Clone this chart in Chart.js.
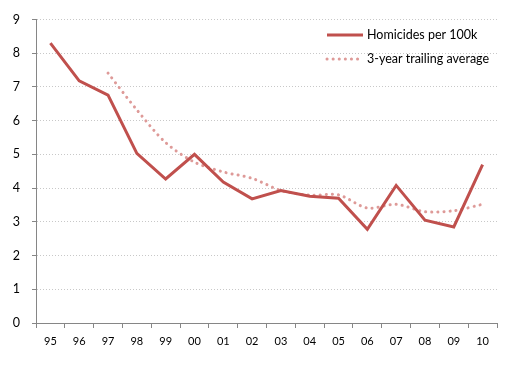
<!DOCTYPE html>
<html>
<head>
<meta charset="utf-8">
<script src="https://cdn.jsdelivr.net/npm/chart.js@4.4.0/dist/chart.umd.min.js"></script>
<style>
  html, body { margin: 0; padding: 0; background: #fff; }
  #wrap { width: 513px; height: 372px; }
</style>
</head>
<body>
<div id="wrap"><canvas id="chart" width="513" height="372"></canvas></div>
<script>
// data
const years = ["95", "96", "97", "98", "99", "00", "01", "02", "03", "04", "05", "06", "07", "08", "09", "10"];
const homicides = [8.3, 7.18, 6.76, 5.03, 4.27, 5.0, 4.18, 3.68, 3.93, 3.76, 3.7, 2.78, 4.08, 3.05, 2.85, 4.7];
const trailingAvg = [null, null, 7.41, 6.32, 5.35, 4.77, 4.48, 4.29, 3.93, 3.79, 3.8, 3.41, 3.52, 3.3, 3.33, 3.52];
const yTicks = [0, 1, 2, 3, 4, 5, 6, 7, 8, 9];

const axisGray = "#868686";
const fontFamily = "Lato, 'Open Sans', sans-serif";

// legend drawn in the upper right corner of the plot, like the original
const insideLegend = {
    id: "insideLegend",
    afterDraw: function(chart) {
        const ctx = chart.ctx;
        const x0 = 327, x1 = 363, tx = 367;
        const rows = [35, 59];
        ctx.save();
        chart.data.datasets.forEach((ds, i) => {
            const y = rows[i];
            ctx.beginPath();
            ctx.strokeStyle = ds.borderColor;
            ctx.lineWidth = ds.borderWidth;
            ctx.lineCap = ds.borderDash ? "round" : "butt";
            ctx.setLineDash(ds.borderDash || []);
            ctx.moveTo(x0, y);
            ctx.lineTo(x1, y);
            ctx.stroke();
            ctx.setLineDash([]);
            ctx.fillStyle = "#000";
            ctx.font = "12.5px " + fontFamily;
            ctx.textBaseline = "middle";
            ctx.fillText(ds.label, tx, y);
        });
        ctx.restore();
    }
};

new Chart(document.getElementById("chart"), {
    type: "line",
    data: {
        labels: years,
        datasets: [{
            label: "Homicides per 100k",
            data: homicides,
            borderColor: "#C0504D",
            borderWidth: 3,
            pointRadius: 0,
            tension: 0,
            borderJoinStyle: "miter"
        }, {
            label: "3-year trailing average",
            data: trailingAvg,
            borderColor: "#DE9A98",
            borderWidth: 3,
            borderDash: [0.1, 6],
            borderCapStyle: "round",
            pointRadius: 0,
            tension: 0.3
        }]
    },
    plugins: [insideLegend],
    options: {
        responsive: false,
        animation: false,
        layout: { padding: { top: 17, right: 16, left: 0, bottom: 0 } },
        plugins: {
            legend: { display: false },
            tooltip: { enabled: false }
        },
        scales: {
            x: {
                offset: true,
                grid: {
                    offset: true,
                    drawOnChartArea: false,
                    drawTicks: true,
                    tickLength: 5,
                    color: axisGray
                },
                border: { color: axisGray, width: 1 },
                ticks: {
                    color: "#000",
                    font: { family: fontFamily, size: 11 },
                    padding: 7,
                    maxRotation: 0,
                    autoSkip: false
                },
                afterFit: function(scale) { scale.height = 49; }
            },
            y: {
                min: 0,
                max: 9,
                afterBuildTicks: function(scale) {
                    scale.ticks = yTicks.map(v => ({ value: v }));
                },
                grid: {
                    color: ctx => ctx.tick && ctx.tick.value === 0 ? "rgba(0,0,0,0)" : "#C8C8C8",
                    tickColor: axisGray,
                    tickLength: 4,
                    lineWidth: 1
                },
                border: { color: axisGray, width: 1, dash: [1, 2] },
                ticks: {
                    color: "#000",
                    font: { family: fontFamily, size: 12.5 },
                    padding: 12
                },
                afterFit: function(scale) { scale.width = 36; }
            }
        }
    }
});
</script>
</body>
</html>
